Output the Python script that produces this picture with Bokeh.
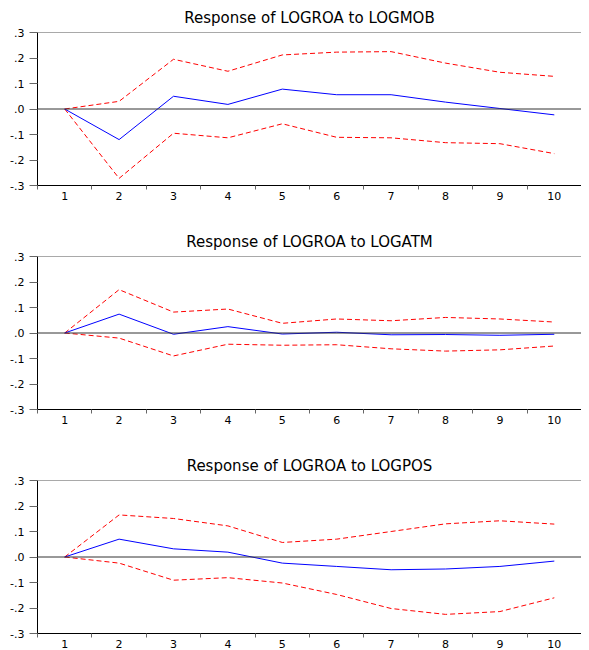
from bokeh.plotting import figure
from bokeh.layouts import column
from bokeh.models import Range1d, FixedTicker, CustomJSTickFormatter, Span
from bokeh.embed import file_html
from bokeh.resources import INLINE

periods = [1, 2, 3, 4, 5, 6, 7, 8, 9, 10]

titles = ["Response of LOGROA to LOGMOB",
          "Response of LOGROA to LOGATM",
          "Response of LOGROA to LOGPOS"]

mob_resp = [0.0, -0.120, 0.050, 0.018, 0.078, 0.056, 0.056, 0.027, 0.002, -0.023]
mob_upper = [0.0, 0.030, 0.195, 0.148, 0.212, 0.223, 0.225, 0.180, 0.144, 0.128]
mob_lower = [0.0, -0.272, -0.095, -0.113, -0.058, -0.111, -0.113, -0.132, -0.136, -0.175]

atm_resp = [0.0, 0.074, -0.005, 0.025, -0.004, 0.003, -0.007, -0.006, -0.009, -0.005]
atm_upper = [0.0, 0.170, 0.082, 0.094, 0.038, 0.055, 0.048, 0.061, 0.055, 0.043]
atm_lower = [0.0, -0.020, -0.090, -0.044, -0.048, -0.046, -0.062, -0.071, -0.066, -0.051]

pos_resp = [0.0, 0.070, 0.032, 0.019, -0.024, -0.037, -0.050, -0.047, -0.037, -0.016]
pos_upper = [0.0, 0.165, 0.151, 0.122, 0.057, 0.070, 0.100, 0.130, 0.142, 0.129]
pos_lower = [0.0, -0.024, -0.091, -0.081, -0.102, -0.147, -0.202, -0.225, -0.214, -0.160]

y_ticks = [-0.3, -0.2, -0.1, 0.0, 0.1, 0.2, 0.3]

series = [(mob_resp, mob_upper, mob_lower),
          (atm_resp, atm_upper, atm_lower),
          (pos_resp, pos_upper, pos_lower)]

FONT = "DejaVu Sans"
figs = []
for i, (title, (resp, up, lo)) in enumerate(zip(titles, series)):
    p = figure(frame_width=544, frame_height=153,
               x_range=Range1d(0.5, 10.5), y_range=Range1d(-0.3, 0.3),
               output_backend="svg", toolbar_location=None,
               min_border_left=37, min_border_right=0, min_border_top=0,
               min_border_bottom=(39 if i < 2 else 0))
    p.title.text = title
    p.title.align = "center"
    p.title.text_font = FONT
    p.title.text_font_size = "15px"
    p.title.text_font_style = "normal"
    p.title.text_color = "black"
    p.title.standoff = 12
    p.outline_line_color = None
    p.xgrid.visible = False
    p.ygrid.visible = False

    # x axis: labels at periods, tick marks between
    p.xaxis.ticker = FixedTicker(ticks=periods,
                                 minor_ticks=[x - 0.5 for x in periods] + [10.5])
    p.xaxis.major_tick_out = 0
    p.xaxis.major_tick_in = 0
    p.xaxis.minor_tick_out = 4
    p.xaxis.minor_tick_in = 0
    p.xaxis.minor_tick_line_color = "#666666"
    p.xaxis.axis_line_color = "black"
    p.xaxis.major_label_standoff = 2
    p.xaxis.major_label_text_font = FONT
    p.xaxis.major_label_text_font_size = "11px"
    p.xaxis.major_label_text_color = "black"

    # y axis
    p.yaxis.ticker = FixedTicker(ticks=y_ticks, minor_ticks=[])
    p.yaxis.formatter = CustomJSTickFormatter(
        code="return tick.toFixed(1).replace('0.', '.');")
    p.yaxis.major_tick_out = 8
    p.yaxis.major_tick_in = 0
    p.yaxis.major_tick_line_color = "#666666"
    p.yaxis.axis_line_color = "black"
    p.yaxis.major_label_standoff = 5
    p.yaxis.major_label_text_font = FONT
    p.yaxis.major_label_text_font_size = "11px"
    p.yaxis.major_label_text_color = "black"

    p.add_layout(Span(location=0.3, dimension="width", line_color="#555555", line_width=1))
    p.add_layout(Span(location=0.0, dimension="width", line_color="#333333", line_width=1))

    p.line(periods, up, line_color="#FF0000", line_width=1, line_dash="5 3")
    p.line(periods, lo, line_color="#FF0000", line_width=1, line_dash="5 3")
    p.line(periods, resp, line_color="#0000FF", line_width=1)
    figs.append(p)

layout = column(*figs, spacing=0)
open("out.html", "w").write(file_html(layout, INLINE))
